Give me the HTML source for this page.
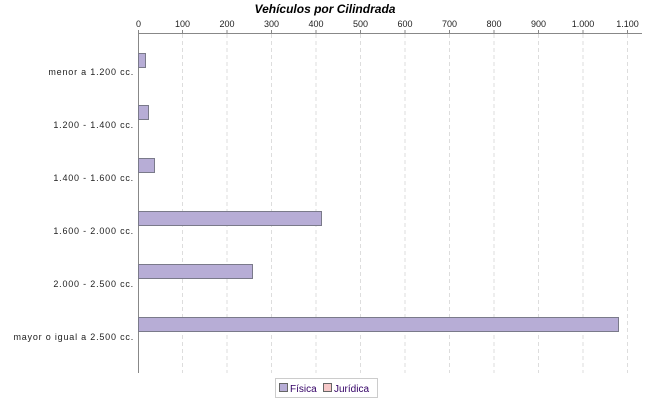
<!DOCTYPE html>
<html><head><meta charset="utf-8"><style>
body{margin:0;background:#fff;}
svg{display:block;font-family:"Liberation Sans",sans-serif;}
</style></head><body>
<svg width="650" height="400" xmlns="http://www.w3.org/2000/svg">
<rect width="650" height="400" fill="#fff"/>
<text x="325" y="13" text-anchor="middle" font-size="12" font-weight="bold" font-style="italic">Vehículos por Cilindrada</text>
<g stroke="#ddd" stroke-dasharray="4,3" stroke-width="1">
<line x1="182.5" y1="34" x2="182.5" y2="373"/><line x1="227" y1="34" x2="227" y2="373"/>
<line x1="271.5" y1="34" x2="271.5" y2="373"/><line x1="316" y1="34" x2="316" y2="373"/>
<line x1="360.5" y1="34" x2="360.5" y2="373"/><line x1="405" y1="34" x2="405" y2="373"/>
<line x1="449.5" y1="34" x2="449.5" y2="373"/><line x1="494" y1="34" x2="494" y2="373"/>
<line x1="538.5" y1="34" x2="538.5" y2="373"/><line x1="583" y1="34" x2="583" y2="373"/>
<line x1="627.5" y1="34" x2="627.5" y2="373"/>
</g>
<line x1="138" y1="33.5" x2="642" y2="33.5" stroke="#888"/>
<line x1="138.5" y1="33" x2="138.5" y2="373" stroke="#888"/>
<g stroke="#888">
<line x1="138.5" y1="30" x2="138.5" y2="33"/><line x1="182.5" y1="30" x2="182.5" y2="33"/><line x1="227" y1="30" x2="227" y2="33"/><line x1="271.5" y1="30" x2="271.5" y2="33"/><line x1="316" y1="30" x2="316" y2="33"/><line x1="360.5" y1="30" x2="360.5" y2="33"/><line x1="405" y1="30" x2="405" y2="33"/><line x1="449.5" y1="30" x2="449.5" y2="33"/><line x1="494" y1="30" x2="494" y2="33"/><line x1="538.5" y1="30" x2="538.5" y2="33"/><line x1="583" y1="30" x2="583" y2="33"/><line x1="627.5" y1="30" x2="627.5" y2="33"/>
</g>
<g font-size="9" text-anchor="middle" fill="#222">
<text x="138.5" y="27">0</text><text x="182.5" y="27">100</text><text x="227" y="27">200</text><text x="271.5" y="27">300</text><text x="316" y="27">400</text><text x="360.5" y="27">500</text><text x="405" y="27">600</text><text x="449.5" y="27">700</text><text x="494" y="27">800</text><text x="538.5" y="27">900</text><text x="583" y="27">1.000</text><text x="627.5" y="27">1.100</text>
</g>
<g fill="#b7add6" stroke="#7a7a8a">
<rect x="138.5" y="53.5" width="7" height="14"/>
<rect x="138.5" y="105.5" width="10" height="14"/>
<rect x="138.5" y="158.5" width="16" height="14"/>
<rect x="138.5" y="211.5" width="183" height="14"/>
<rect x="138.5" y="264.5" width="114" height="14"/>
<rect x="138.5" y="317.5" width="480" height="14"/>
</g>
<g font-size="9" text-anchor="end" fill="#222" letter-spacing="0.8">
<text x="134" y="75">menor a 1.200 cc.</text>
<text x="134" y="128">1.200 - 1.400 cc.</text>
<text x="134" y="181">1.400 - 1.600 cc.</text>
<text x="134" y="234">1.600 - 2.000 cc.</text>
<text x="134" y="287">2.000 - 2.500 cc.</text>
<text x="134" y="340">mayor o igual a 2.500 cc.</text>
</g>
<rect x="275.5" y="378.5" width="102" height="19" fill="#fff" stroke="#ccc"/>
<rect x="279.5" y="383.5" width="8" height="8" fill="#b7add6" stroke="#666"/>
<text x="290" y="392" font-size="10" fill="#330066">Física</text>
<rect x="323.5" y="383.5" width="8" height="8" fill="#f6c8c8" stroke="#666"/>
<text x="334" y="392" font-size="10" fill="#330066">Jurídica</text>
</svg>
</body></html>
